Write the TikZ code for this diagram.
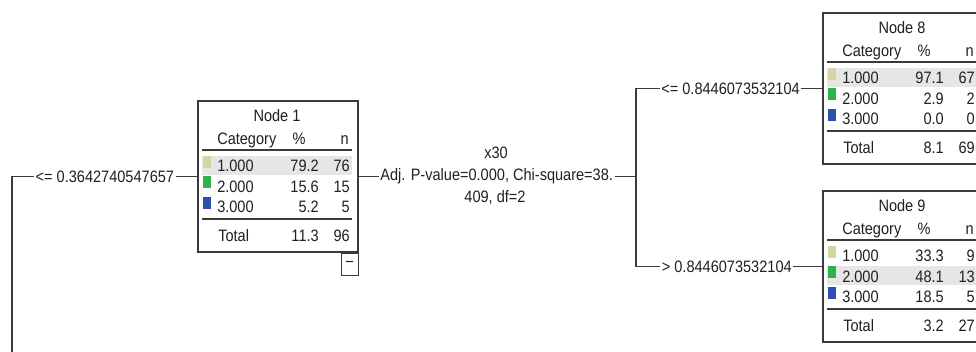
\documentclass[tikz,border=0pt]{standalone}
\usepackage{fontspec}
\setmainfont{Liberation Sans}[FakeStretch=0.88]
\usetikzlibrary{positioning}

\definecolor{cat1}{HTML}{D8D3A2}
\definecolor{cat2}{HTML}{2DB34A}
\definecolor{cat3}{HTML}{2E4FB0}
\definecolor{hlgray}{HTML}{E6E6E6}
\definecolor{linegray}{HTML}{3A3A3A}
\definecolor{textgray}{HTML}{202020}

\tikzset{
  treeline/.style={draw=linegray, line width=1.1pt},
  treebox/.style={draw=linegray, line width=1.3pt, fill=white, anchor=north west,
    inner sep=0pt, minimum width=120pt, minimum height=113.25pt},
  tabrule/.style={draw=linegray, line width=1.3pt},
  cell/.style={inner sep=0pt, text=textgray},
  edgelabel/.style={inner sep=1pt, text=textgray},
  togglebox/.style={draw=linegray, line width=0.9pt, anchor=north east, inner sep=0pt,
    minimum width=12.75pt, minimum height=16.5pt, text=textgray}
}

% one node of the tree: id, position, highlighted row, rows, total %, total n
\newcommand\nodetab[6]{%
  \node[treebox] (n#1) at #2 {};
  \begin{scope}[shift={(n#1.north west)}]
    \pgfmathsetmacro\hly{45.5+20.5*#3}
    \fill[hlgray] (5,\hly-10) rectangle (155,\hly+9);
    \node[cell, anchor=base] (n#1title) at (80,22) {Node #1};
    \node[cell, anchor=base west] (n#1hcat) at (20,44.5) {Category};
    \node[cell, anchor=base] (n#1hpct) at (102,44.5) {\%};
    \node[cell, anchor=base east] (n#1hcnt) at (152,44.5) {n};
    \draw[tabrule] (5,50) -- (155,50);
    \foreach \i/\pct/\cnt in {#4} {
      \pgfmathsetmacro\ry{45.5+20.5*\i}
      \fill[cat\i] (6,\ry-10) rectangle (14,\ry+2);
      \node[cell, anchor=base west] (n#1c\i) at (20,\ry+5.7) {\i.000};
      \node[cell, anchor=base east] (n#1p\i) at (122,\ry+5.7) {\pct};
      \node[cell, anchor=base east] (n#1n\i) at (153,\ry+5.7) {\cnt};
    }
    \draw[tabrule] (5,119) -- (155,119);
    \node[cell, anchor=base west] (n#1tot) at (21,142) {Total};
    \node[cell, anchor=base east] (n#1totp) at (122,142) {#5};
    \node[cell, anchor=base east] (n#1totn) at (153,142) {#6};
  \end{scope}
}

\begin{document}
\begin{tikzpicture}[x=0.75pt, y=-0.75pt, font=\fontsize{12.4}{14}\selectfont]
  \clip (0,0) rectangle (976,352);
  \useasboundingbox (0,0) rectangle (976,352);

  % nodes
  \nodetab{1}{(197,100)}{1}{1/79.2/76, 2/15.6/15, 3/5.2/5}{11.3}{96}
  \nodetab{8}{(822,12)}{1}{1/97.1/67, 2/2.9/2, 3/0.0/0}{8.1}{69}
  \nodetab{9}{(822,190)}{2}{1/33.3/9, 2/48.1/13, 3/18.5/5}{3.2}{27}
  \node[togglebox] (n1toggle) at (n1.south east) {−};

  % branch labels
  \node[edgelabel, left=16pt of n1] (lbl1) {<= 0.3642740547657};
  \node[edgelabel, left=15.5pt of n8] (lbl8) {<= 0.8446073532104};
  \node[edgelabel, left=21.5pt of n9] (lbl9) {> 0.8446073532104};

  % split of node 1
  \node[edgelabel, right=15pt of n1] (split1) {Adj. P-value=0.000, Chi-square=38.};
  \node[edgelabel] (split1var) at (496,153) {x30};
  \node[edgelabel] (split1df) at (495,198) {409, df=2};

  % connectors
  \coordinate (rootbot) at (12,360);
  \coordinate (fork1) at (636,175);
  \draw[treeline] (rootbot) |- (lbl1.west);
  \draw[treeline] (lbl1.east) -- (n1.west);
  \draw[treeline] (n1.east) -- (split1.west);
  \draw[treeline] (split1.east) -- (split1.east -| fork1);
  \draw[treeline] (lbl8.west) -| (fork1) |- (lbl9.west);
  \draw[treeline] (lbl8.east) -- (n8.west);
  \draw[treeline] (lbl9.east) -- (n9.west);
\end{tikzpicture}
\end{document}
